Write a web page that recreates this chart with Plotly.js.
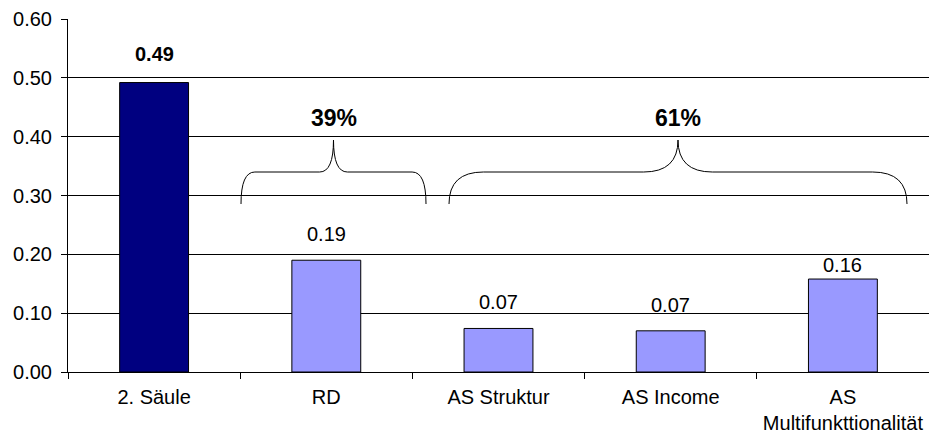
<!DOCTYPE html>
<html><head><meta charset="utf-8">
<script src="https://cdn.plot.ly/plotly-3.0.1.min.js"></script>
<style>html,body{margin:0;padding:0;background:#fff}</style>
</head><body><div id="chart" style="width:929px;height:439px"></div>
<script>
// ---- data ----
const categories = ['2. Säule', 'RD', 'AS Struktur', 'AS Income', 'AS<br>Multifunkttionalität'];
const values = [0.492, 0.190, 0.074, 0.070, 0.158];
const valueLabels = ['0.49', '0.19', '0.07', '0.07', '0.16'];
const groupLabels = ['39%', '61%'];
const yTickVals = [0, 0.1, 0.2, 0.3, 0.4, 0.5, 0.6];
const yTickText = ['0.00', '0.10', '0.20', '0.30', '0.40', '0.50', '0.60'];

// ---- styles ----
const FONT = 'Liberation Sans, Arial, sans-serif';
const FS = 20;
const barColors = ['#000080', '#9999ff', '#9999ff', '#9999ff', '#9999ff'];
const M = {l: 68, r: 0, t: 19, b: 67};
const W = 929, H = 439;
const PW = W - M.l - M.r, PH = H - M.t - M.b;
const px = x => (x - M.l) / PW;
const py = y => (H - M.b - y) / PH;

// brace decoration (pixel geometry of the original drawing)
function brace(x0, x1, yb, yh, yt) {
  const xc = (x0 + x1) / 2;
  const r = (x1 - x0) * 0.075;
  const P = (x, y) => px(x).toFixed(5) + ',' + py(y).toFixed(5);
  return 'M' + P(x0, yb) + ' Q' + P(x0, yh) + ' ' + P(x0 + r, yh) +
    ' L' + P(xc - r, yh) + ' Q' + P(xc, yh) + ' ' + P(xc, yt) +
    ' Q' + P(xc, yh) + ' ' + P(xc + r, yh) +
    ' L' + P(x1 - r, yh) + ' Q' + P(x1, yh) + ' ' + P(x1, yb);
}
const braces = [[241, 426], [449, 907]];

const shapes = braces.map(b => ({
  type: 'path', xref: 'paper', yref: 'paper',
  path: brace(b[0], b[1], 204, 172, 140),
  line: {color: '#000', width: 1}
}));

const annotations = [];
values.forEach((v, i) => {
  annotations.push({
    x: categories[i], y: v, xref: 'x', yref: 'y',
    text: i === 0 ? '<b>' + valueLabels[i] + '</b>' : valueLabels[i],
    showarrow: false, yanchor: 'bottom',
    yshift: i === 0 ? 16 : (i === values.length - 1 ? 1 : 13),
    font: {family: FONT, size: FS, color: '#000'}
  });
});
groupLabels.forEach((t, i) => {
  const b = braces[i];
  annotations.push({
    x: px((b[0] + b[1]) / 2), y: py(118), xref: 'paper', yref: 'paper',
    xanchor: 'center', yanchor: 'middle', yshift: 0,
    text: '<b>' + t + '</b>', showarrow: false,
    font: {family: FONT, size: 23, color: '#000'}
  });
});

const trace = {
  type: 'bar', x: categories, y: values,
  marker: {color: barColors, line: {color: '#000', width: 1}},
  hoverinfo: 'none'
};

const layout = {
  width: W, height: H, margin: M,
  paper_bgcolor: '#fff', plot_bgcolor: '#fff',
  font: {family: FONT, size: FS, color: '#000'},
  showlegend: false, bargap: 0.6,
  xaxis: {
    type: 'category', showgrid: false, showline: true, linecolor: '#000', linewidth: 1,
    ticks: 'outside', tickson: 'boundaries', ticklen: 6, tickcolor: '#000',
    ticklabelstandoff: 7, tickfont: {family: FONT, size: FS, color: '#000'}, fixedrange: true
  },
  yaxis: {
    range: [0, 0.6], tickvals: yTickVals, ticktext: yTickText,
    showgrid: true, gridcolor: '#000', gridwidth: 1, zeroline: false,
    showline: true, linecolor: '#000', linewidth: 1,
    ticks: 'outside', ticklen: 6, tickcolor: '#000', ticklabelstandoff: 5,
    tickfont: {family: FONT, size: FS, color: '#000'}, fixedrange: true
  },
  shapes: shapes, annotations: annotations
};

Plotly.newPlot('chart', [trace], layout, {staticPlot: true, displayModeBar: false});
</script></body></html>
